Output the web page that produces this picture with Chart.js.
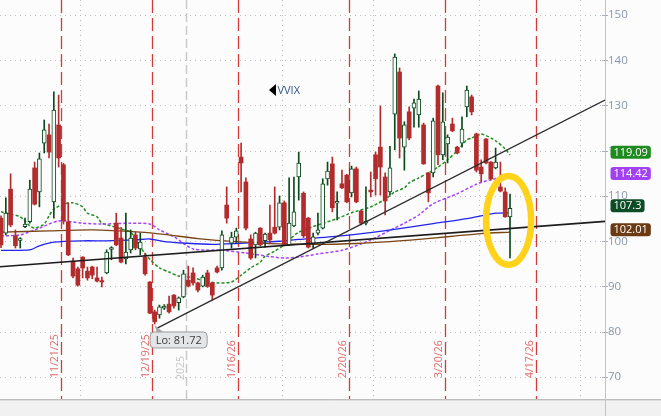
<!DOCTYPE html>
<html>
<head>
<meta charset="utf-8">
<script src="https://cdn.jsdelivr.net/npm/chart.js@4.4.1/dist/chart.umd.min.js"></script>
<style>
  html, body { margin: 0; padding: 0; background: #fcfcfc; overflow: hidden; }
  #wrap { width: 661px; height: 416px; position: relative; }
</style>
</head>
<body>
<div id="wrap"><canvas id="c" width="661" height="416"></canvas></div>
<script>
// ---- VVIX daily sessions (index 0 = 11/5/25, last = 4/10/26) ----
const open  = [105.1,101.8,111.5,101.2,100.2,103.2,104.3,116.2,110.9,121.7,
               123.5,108.7,125.7,116.9,104.3,95.6,93.9,96.5,93.4,94.3,
               91.9,91.3,93.0,98.2,104.0,100.7,96.1,98.1,101.4,98.3,
               96.5,91.0,84.4,83.7,85.2,86.1,88.1,86.4,87.7,91.4,
               93.0,90.8,90.1,93.0,90.8,94.1,94.1,108.0,99.6,100.9,
               118.6,113.1,100.5,99.2,102.9,100.1,101.8,103.1,103.1,108.5,
               99.2,103.4,114.2,110.6,105.1,99.4,101.8,102.9,113.8,117.1,
               108.4,112.7,114.6,110.7,116.0,106.7,104.0,111.3,119.1,120.8,
               114.2,110.9,128.1,137.4,120.8,128.6,129.4,127.9,125.7,115.1,
               115.1,134.3,119.1,121.5,125.9,120.8,121.7,129.7,131.9,123.7,
               116.4,122.6,117.5,116.2,112.0,110.9,105.4];
const high  = [105.6,109.6,114.9,102.5,100.8,105.1,113.5,117.5,119.5,126.8,
               125.9,133.0,132.3,117.2,108.5,96.3,94.3,96.6,94.3,94.5,
               94.3,92.1,98.1,98.8,106.2,103.1,106.2,102.5,102.0,101.8,
               97.4,91.1,84.8,85.9,86.0,87.9,88.2,87.7,93.6,94.5,
               94.1,91.0,92.5,93.6,90.9,94.5,102.3,112.0,102.0,102.9,
               121.7,114.0,101.4,102.0,103.0,101.8,108.0,112.0,110.0,108.9,
               114.0,114.2,119.7,110.9,105.3,101.8,106.2,113.8,117.5,118.6,
               110.9,115.7,114.8,116.6,116.4,106.9,112.0,115.3,119.7,129.9,
               115.1,121.0,141.4,138.3,126.4,129.7,131.4,133.2,126.1,115.2,
               127.2,134.5,132.8,123.5,127.2,121.0,127.5,134.3,132.3,123.9,
               118.0,122.7,117.6,120.6,117.5,111.8,110.4];
const low   = [98.6,101.4,103.2,98.5,98.5,103.0,104.0,108.0,107.6,119.5,
               118.4,105.1,116.4,103.8,96.8,91.9,90.1,91.9,91.4,91.7,
               91.0,89.9,92.8,95.9,99.0,95.2,95.0,97.4,98.1,97.0,
               92.5,84.0,81.72,83.0,84.9,84.1,85.2,84.8,87.5,89.9,
               90.3,88.8,89.9,89.8,87.0,93.0,93.6,104.0,98.5,99.6,
               110.9,102.5,96.0,96.3,99.0,98.7,99.6,101.6,102.5,99.0,
               99.0,103.2,109.1,100.8,98.5,98.5,101.4,102.7,112.4,106.5,
               104.7,111.6,108.5,109.8,108.5,103.6,103.6,109.8,110.2,110.2,
               105.8,110.2,120.2,118.4,115.7,122.4,125.2,125.2,117.0,108.7,
               114.2,116.9,118.0,117.3,124.2,119.3,120.8,127.5,127.9,115.3,
               113.1,117.1,113.5,116.0,110.9,105.3,96.3];
const close = [99.2,106.2,103.6,99.0,100.6,103.8,111.5,108.2,118.2,124.6,
               119.7,129.0,118.4,104.5,97.0,92.3,90.3,94.1,91.9,92.5,
               91.2,91.0,97.6,98.6,99.2,95.4,97.6,100.7,98.5,99.8,
               92.8,84.1,82.2,85.5,85.7,84.4,85.7,87.5,92.8,90.1,
               90.8,89.2,92.1,90.0,88.1,93.2,101.4,105.1,100.9,102.3,
               117.3,102.9,96.3,101.8,99.2,101.6,100.3,101.8,108.5,99.2,
               104.0,106.5,117.3,101.2,98.7,101.0,102.5,112.7,115.5,107.4,
               108.8,111.8,108.7,116.0,108.7,104.0,104.4,110.9,113.8,116.4,
               108.9,116.2,140.7,122.8,125.7,122.8,130.6,131.4,117.1,110.7,
               126.6,119.1,126.4,123.0,124.4,119.5,124.8,133.4,128.6,115.7,
               114.9,117.3,113.8,117.5,111.1,105.4,107.3];

// moving averages, [session, value]
const fastAvg = [[0,106.5],[2,106.0],[4,105.4],[6,103.4],[7,102.9],[9,103.8],[10,105.6],[11,107.1],
                 [13,108.2],[15,108.5],[17,107.6],[18,106.2],[20,105.4],[21,104.0],[24,103.1],[25,102.7],
                 [27,102.0],[29,98.7],[31,96.0],[33,94.1],[35,93.2],[37,92.3],[40,92.0],[42,91.3],
                 [45,90.8],[48,91.0],[50,92.5],[52,94.1],[54,95.4],[55,96.7],[57,97.8],[59,99.2],
                 [60,100.3],[62,102.0],[66,103.6],[70,105.0],[73,106.3],[77,107.6],[80,109.3],[82,110.9],
                 [84,111.8],[85,112.9],[87,114.0],[89,115.1],[91,116.4],[93,118.0],[95,120.0],[97,122.4],
                 [98,122.8],[100,123.7],[103,122.2],[105,120.4],[106,119.09]];
const midAvg  = [[0,101.2],[4,101.4],[8,102.9],[12,104.5],[17,104.0],[21,103.8],[27,104.0],[31,103.8],
                 [33,102.5],[36,101.0],[40,98.3],[46,98.0],[51,97.4],[56,96.6],[59,96.3],[62,96.5],
                 [66,97.2],[71,98.0],[75,99.4],[78,100.8],[81,102.4],[84,104.0],[87,105.8],[90,108.3],
                 [95,110.5],[99,112.6],[102,113.6],[106,114.42]];
const slowAvg = [[0,98.0],[6,98.1],[8,99.0],[11,99.8],[17,100.1],[22,100.1],[28,100.3],[31,100.5],
                 [34,99.9],[38,99.6],[44,99.3],[49,99.5],[54,99.8],[58,100.0],[62,100.4],[69,101.0],
                 [76,101.8],[83,102.8],[90,103.9],[97,105.0],[103,106.2],[106,106.3]];
const longAvg = [[0,102.0],[10,102.3],[19,102.5],[29,102.0],[34,101.5],[41,100.6],[49,99.9],[58,99.4],
                 [66,99.3],[74,99.5],[81,99.9],[87,100.4],[94,101.1],[100,101.7],[106,102.01]];

// hand-drawn trend lines, [session, value]
const trendRise = [[32.42, 80.76], [125.78, 131.22]];
const trendFlat = [[-0.21, 94.38], [125.78, 104.4]];

// monthly expirations (session index) and their labels
const expirySessions = [12, 31, 49, 72, 92, 111];
const expiryLabels   = ['11/21/25', '12/19/25', '1/16/26', '2/20/26', '3/20/26', '4/17/26'];
// month boundaries (between sessions); the January one marks the year change
const monthBreaks = [16.5, 38.5, 58.5, 77.5, 99.5, 120.5];
const yearBreak = 38.5, yearLabel = '2025';

const yTicks = [70, 80, 90, 100, 110, 120, 130, 140, 150];
const symbol = 'VVIX';

// ---- drawing ----
const UP = '#0b4a1d', DOWN = '#b22c2e', BG = '#fcfcfc';
const FONT = "'Open Sans', 'Noto Sans', sans-serif";
const sessions = open.map((_, i) => i);
const isUp = i => close[i] >= open[i];
const pts = arr => arr.map(([x, y]) => ({ x, y }));
const last = arr => arr[arr.length - 1][1];

function seg(ctx, x1, y1, x2, y2) { ctx.beginPath(); ctx.moveTo(x1, y1); ctx.lineTo(x2, y2); ctx.stroke(); }
function rrect(ctx, x, y, w, h, r) {
  ctx.beginPath();
  ctx.moveTo(x + r, y); ctx.lineTo(x + w - r, y); ctx.arcTo(x + w, y, x + w, y + r, r);
  ctx.lineTo(x + w, y + h - r); ctx.arcTo(x + w, y + h, x + w - r, y + h, r);
  ctx.lineTo(x + r, y + h); ctx.arcTo(x, y + h, x, y + h - r, r);
  ctx.lineTo(x, y + r); ctx.arcTo(x, y, x + r, y, r); ctx.closePath();
}

const backdrop = {
  id: 'backdrop',
  beforeDraw(chart) {
    const { ctx, chartArea: a, width, height } = chart;
    ctx.save();
    ctx.fillStyle = BG; ctx.fillRect(0, 0, width, height);
    ctx.fillStyle = '#f1f1f1'; ctx.fillRect(0, a.bottom, width, height - a.bottom);
    ctx.lineWidth = 1;
    ctx.strokeStyle = '#bdbdbd'; seg(ctx, 0, a.bottom + 0.5, width, a.bottom + 0.5);
    ctx.strokeStyle = '#dedede'; seg(ctx, 0, a.bottom + 1.5, width, a.bottom + 1.5);
    ctx.restore();
  },
  beforeDatasetsDraw(chart) {
    const { ctx, chartArea: a, scales: { x, y } } = chart;
    ctx.save();
    ctx.lineWidth = 1;
    // dotted price grid
    ctx.strokeStyle = '#bcbcbc'; ctx.setLineDash([1, 4]);
    yTicks.forEach(v => { const py = Math.round(y.getPixelForValue(v)) + 0.5; seg(ctx, a.left, py, a.right, py); });
    // month grid
    monthBreaks.forEach(m => {
      if (m === yearBreak) return;
      const px = Math.round(x.getPixelForValue(m)) + 0.5; seg(ctx, px, a.top, px, a.bottom);
    });
    // year change
    ctx.strokeStyle = '#c9c9c9'; ctx.lineWidth = 1.5; ctx.setLineDash([9, 4]);
    const yx = Math.round(x.getPixelForValue(yearBreak)) + 0.5;
    seg(ctx, yx, a.top, yx, a.bottom);
    // expirations
    ctx.strokeStyle = '#d23b3b'; ctx.lineWidth = 1.3; ctx.setLineDash([13, 5]);
    expirySessions.forEach(s => {
      const px = Math.round(x.getPixelForValue(s + 0.4)) + 0.5; seg(ctx, px, a.top, px, a.bottom);
    });
    ctx.setLineDash([]);
    // rotated date labels
    ctx.font = '10.5px ' + FONT; ctx.textAlign = 'left'; ctx.textBaseline = 'alphabetic';
    ctx.fillStyle = '#df6a6a';
    expirySessions.forEach((s, i) => {
      const px = Math.round(x.getPixelForValue(s + 0.4));
      ctx.save(); ctx.translate(px - 3, a.bottom - 21); ctx.rotate(-Math.PI / 2);
      ctx.fillText(expiryLabels[i], 0, 0); ctx.restore();
    });
    ctx.fillStyle = '#c6c6c6';
    ctx.save(); ctx.translate(yx - 3, a.bottom - 19); ctx.rotate(-Math.PI / 2);
    ctx.fillText(yearLabel, 0, 0); ctx.restore();
    ctx.restore();
  },
  afterDatasetsDraw(chart) {
    const { ctx, chartArea: a, scales: { x, y } } = chart;
    ctx.save();
    // highlight ring around the latest sessions
    const cx = x.getPixelForValue(105.7), cy = y.getPixelForValue(104.6);
    const rx = x.getPixelForValue(105.7 + 4.7) - cx, ry = cy - y.getPixelForValue(104.6 + 9.8);
    ctx.strokeStyle = '#ffd21c'; ctx.lineWidth = 6.5;
    ctx.beginPath(); ctx.ellipse(cx, cy, rx, ry, 0, 0, Math.PI * 2); ctx.stroke();

    // low callout
    let lo = 0; low.forEach((v, i) => { if (v < low[lo]) lo = i; });
    const lx = x.getPixelForValue(lo), ly = y.getPixelForValue(low[lo]);
    ctx.fillStyle = '#a9a9a9';
    ctx.beginPath(); ctx.moveTo(lx, ly + 1); ctx.lineTo(lx + 2, ly + 8.5); ctx.lineTo(lx + 9, ly + 8.5); ctx.closePath(); ctx.fill();
    rrect(ctx, lx - 4.5, ly + 8, 57, 16, 4);
    ctx.fillStyle = '#e3e5e7'; ctx.fill();
    ctx.strokeStyle = '#9c9c9c'; ctx.lineWidth = 1; ctx.stroke();
    ctx.fillStyle = '#3c3c3c'; ctx.font = '11px ' + FONT; ctx.textBaseline = 'middle'; ctx.textAlign = 'left';
    ctx.fillText('Lo: ' + low[lo].toFixed(2), lx + 1, ly + 16.5);

    // symbol tag
    const sx = a.left + 269, sy = a.top + 90;
    ctx.fillStyle = '#000';
    ctx.beginPath(); ctx.moveTo(sx, sy); ctx.lineTo(sx + 7, sy - 6); ctx.lineTo(sx + 7, sy + 6); ctx.closePath(); ctx.fill();
    ctx.fillStyle = '#34588a'; ctx.font = '11px ' + FONT;
    ctx.fillText(symbol, sx + 8.5, sy + 0.5);
    ctx.restore();
  },
  afterDraw(chart) {
    const { ctx, chartArea: a, scales: { y }, height } = chart;
    ctx.save();
    ctx.strokeStyle = '#c4c4c4'; ctx.lineWidth = 1;
    seg(ctx, a.right + 0.5, 0, a.right + 0.5, height);
    ctx.strokeStyle = '#a8b2bd';
    yTicks.forEach(v => { const py = Math.round(y.getPixelForValue(v)) + 0.5; seg(ctx, a.right - 3, py, a.right + 3, py); });
    // last-value tags
    const tags = [
      [last(fastAvg), '#1f8a1f'],
      [last(midAvg), '#a241f2'],
      [close[close.length - 1], '#0c4c26'],
      [last(longAvg), '#6b3a12']
    ];
    ctx.font = '11px ' + FONT; ctx.textBaseline = 'middle'; ctx.textAlign = 'left';
    tags.forEach(([v, col]) => {
      const t = String(v), w = ctx.measureText(t).width + 6;
      const py = y.getPixelForValue(v) - 2.5;
      rrect(ctx, a.right + 5.5, py - 6.5, w, 13, 3);
      ctx.fillStyle = col; ctx.fill();
      ctx.fillStyle = '#ffffff'; ctx.fillText(t, a.right + 8.5, py + 0.5);
    });
    ctx.restore();
  }
};

const lineSet = (arr, color, dash, width) => ({
  type: 'line', data: pts(arr), borderColor: color, borderWidth: width,
  borderDash: dash, pointRadius: 0, tension: 0.25, order: 3, fill: false
});

new Chart(document.getElementById('c'), {
  type: 'bar',
  data: {
    datasets: [
      lineSet(longAvg, '#7a4413', [], 1.3),
      lineSet(slowAvg, '#2323ee', [], 1.3),
      lineSet(midAvg, '#a444ff', [3, 2], 1.5),
      lineSet(fastAvg, '#1f8f1f', [3, 2], 1.5),
      {
        type: 'bar', order: 2, grouped: false, barThickness: 1,
        data: sessions.map(i => ({ x: i, y: [low[i], high[i]] })),
        backgroundColor: sessions.map(i => isUp(i) ? UP : DOWN), borderWidth: 0
      },
      {
        type: 'bar', order: 1, grouped: false, barThickness: 4,
        data: sessions.map(i => ({ x: i, y: [open[i], close[i]] })),
        backgroundColor: sessions.map(i => isUp(i) ? BG : DOWN),
        borderColor: sessions.map(i => isUp(i) ? UP : DOWN),
        borderWidth: sessions.map(i => isUp(i) ? 1 : 0),
        borderSkipped: false
      },
      { type: 'line', data: pts(trendRise), borderColor: '#2a2a2a', borderWidth: 1.3, pointRadius: 0, order: 0 },
      { type: 'line', data: pts(trendFlat), borderColor: '#1c1c1c', borderWidth: 1.6, pointRadius: 0, order: 0 }
    ]
  },
  options: {
    responsive: false, animation: false, devicePixelRatio: 1, events: [],
    layout: { padding: { left: 0, top: 0, right: 0, bottom: 17 } },
    plugins: { legend: { display: false }, tooltip: { enabled: false } },
    scales: {
      x: { type: 'linear', display: false, offset: false, min: -0.21, max: 125.78 },
      y: {
        position: 'right', min: 65.14, max: 153.31,
        grid: { display: false, drawTicks: false }, border: { display: false },
        afterBuildTicks: s => { s.ticks = yTicks.map(v => ({ value: v })); },
        afterFit: s => { s.width = 56; s.paddingTop = 0; s.paddingBottom = 0; },
        ticks: { padding: 3, color: '#8797ab', font: { family: FONT, size: 11.5 } }
      }
    }
  },
  plugins: [backdrop]
});
</script>
</body>
</html>
